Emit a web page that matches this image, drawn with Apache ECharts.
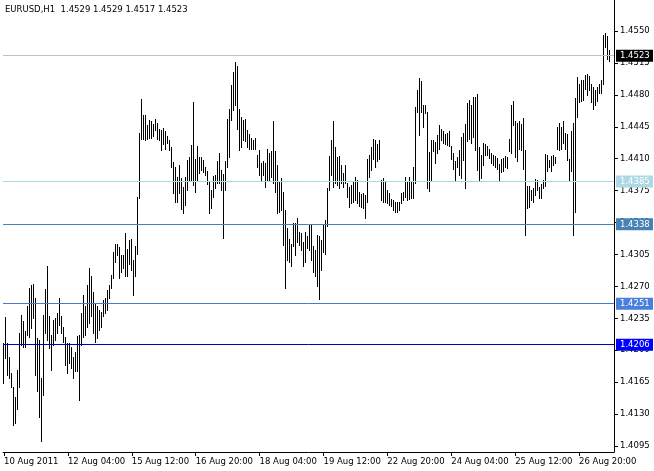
<!DOCTYPE html>
<html>
<head>
<meta charset="utf-8">
<script src="https://cdn.jsdelivr.net/npm/echarts@6/dist/echarts.min.js"></script>
<style>
html,body{margin:0;padding:0;background:#fff;}
#chart{width:654px;height:471px;}
</style>
</head>
<body>
<div id="chart"></div>
<script>
// ---- data ----
const titleText = 'EURUSD,H1  1.4529 1.4529 1.4517 1.4523';
const tickLabels = ['10 Aug 2011','12 Aug 04:00','15 Aug 12:00','16 Aug 20:00','18 Aug 04:00','19 Aug 12:00','22 Aug 20:00','24 Aug 04:00','25 Aug 12:00','26 Aug 20:00'];
const priceTicks = [1.4095,1.4130,1.4165,1.4200,1.4235,1.4270,1.4305,1.4340,1.4375,1.4410,1.4445,1.4480,1.4515,1.4550];
const highs = [
1.4208,1.4236,1.4208,1.4193,1.4175,1.4160,1.4149,1.4178,1.4219,1.4239,
1.4232,1.4221,1.4248,1.4268,1.4272,1.4273,1.4257,1.4213,1.4211,1.4169,
1.4239,1.4267,1.4292,1.4237,1.4217,1.4233,1.4235,1.4241,1.4257,1.4237,
1.4226,1.4215,1.4208,1.4208,1.4204,1.4193,1.4198,1.4216,1.4217,1.4241,
1.4260,1.4248,1.4272,1.4290,1.4281,1.4264,1.4251,1.4248,1.4244,1.4242,
1.4255,1.4257,1.4266,1.4272,1.4283,1.4308,1.4317,1.4316,1.4313,1.4304,
1.4304,1.4329,1.4311,1.4321,1.4322,1.4299,1.4314,1.4368,1.4438,1.4475,
1.4458,1.4458,1.4447,1.4452,1.4451,1.4448,1.4454,1.4449,1.4443,1.4442,
1.4444,1.4440,1.4435,1.4431,1.4423,1.4406,1.4401,1.4390,1.4403,1.4389,
1.4379,1.4390,1.4409,1.4412,1.4425,1.4472,1.4410,1.4424,1.4412,1.4412,
1.4409,1.4401,1.4397,1.4384,1.4376,1.4391,1.4392,1.4407,1.4416,1.4398,
1.4393,1.4408,1.4454,1.4464,1.4491,1.4505,1.4516,1.4512,1.4464,1.4456,
1.4452,1.4454,1.4441,1.4437,1.4433,1.4431,1.4433,1.4414,1.4420,1.4405,
1.4407,1.4405,1.4421,1.4416,1.4418,1.4451,1.4418,1.4403,1.4385,1.4389,
1.4374,1.4354,1.4334,1.4322,1.4317,1.4339,1.4339,1.4345,1.4330,1.4328,
1.4319,1.4330,1.4325,1.4337,1.4337,1.4314,1.4310,1.4326,1.4325,1.4321,
1.4337,1.4343,1.4378,1.4413,1.4430,1.4451,1.4423,1.4412,1.4413,1.4403,
1.4394,1.4403,1.4383,1.4379,1.4381,1.4384,1.4390,1.4387,1.4374,1.4371,
1.4372,1.4370,1.4410,1.4414,1.4423,1.4432,1.4431,1.4426,1.4431,1.4387,
1.4389,1.4384,1.4376,1.4372,1.4366,1.4365,1.4363,1.4362,1.4363,1.4372,
1.4374,1.4390,1.4385,1.4390,1.4385,1.4401,1.4467,1.4485,1.4499,1.4495,
1.4469,1.4469,1.4461,1.4417,1.4431,1.4431,1.4428,1.4436,1.4447,1.4443,
1.4440,1.4437,1.4438,1.4440,1.4424,1.4416,1.4407,1.4412,1.4420,1.4434,
1.4438,1.4448,1.4471,1.4474,1.4469,1.4478,1.4478,1.4481,1.4423,1.4414,
1.4427,1.4426,1.4424,1.4421,1.4416,1.4414,1.4413,1.4411,1.4404,1.4410,
1.4411,1.4413,1.4412,1.4432,1.4469,1.4473,1.4451,1.4449,1.4451,1.4448,
1.4455,1.4420,1.4380,1.4380,1.4376,1.4378,1.4388,1.4387,1.4379,1.4382,
1.4387,1.4415,1.4414,1.4409,1.4413,1.4414,1.4412,1.4445,1.4449,1.4445,
1.4451,1.4438,1.4437,1.4410,1.4440,1.4449,1.4477,1.4500,1.4492,1.4496,
1.4496,1.4502,1.4503,1.4501,1.4492,1.4489,1.4485,1.4489,1.4492,1.4496,
1.4546,1.4548,1.4545,1.4529
];
const lows = [
1.4164,1.4191,1.4173,1.4169,1.4160,1.4118,1.4120,1.4135,1.4160,1.4206,
1.4204,1.4204,1.4217,1.4215,1.4224,1.4235,1.4173,1.4155,1.4127,1.4100,
1.4151,1.4219,1.4211,1.4202,1.4178,1.4206,1.4211,1.4219,1.4228,1.4219,
1.4209,1.4184,1.4175,1.4186,1.4180,1.4169,1.4177,1.4177,1.4145,1.4206,
1.4215,1.4217,1.4226,1.4230,1.4237,1.4219,1.4209,1.4213,1.4222,1.4226,
1.4237,1.4241,1.4244,1.4257,1.4268,1.4279,1.4297,1.4304,1.4279,1.4286,
1.4290,1.4281,1.4281,1.4295,1.4288,1.4261,1.4281,1.4306,1.4367,1.4432,
1.4432,1.4431,1.4432,1.4433,1.4433,1.4435,1.4442,1.4432,1.4431,1.4420,
1.4426,1.4421,1.4427,1.4420,1.4401,1.4372,1.4363,1.4363,1.4372,1.4355,
1.4350,1.4359,1.4376,1.4387,1.4385,1.4381,1.4374,1.4387,1.4394,1.4398,
1.4395,1.4392,1.4382,1.4351,1.4356,1.4368,1.4378,1.4383,1.4383,1.4376,
1.4323,1.4376,1.4401,1.4412,1.4452,1.4463,1.4469,1.4443,1.4420,1.4423,
1.4431,1.4429,1.4423,1.4421,1.4421,1.4421,1.4421,1.4401,1.4392,1.4387,
1.4392,1.4379,1.4385,1.4386,1.4390,1.4383,1.4374,1.4350,1.4352,1.4354,
1.4315,1.4268,1.4299,1.4297,1.4292,1.4314,1.4304,1.4319,1.4315,1.4310,
1.4292,1.4297,1.4312,1.4310,1.4299,1.4286,1.4281,1.4270,1.4256,1.4288,
1.4308,1.4306,1.4336,1.4376,1.4392,1.4379,1.4383,1.4381,1.4378,1.4383,
1.4379,1.4383,1.4368,1.4357,1.4361,1.4363,1.4365,1.4361,1.4358,1.4357,
1.4356,1.4345,1.4363,1.4390,1.4398,1.4410,1.4401,1.4407,1.4410,1.4365,
1.4363,1.4363,1.4361,1.4359,1.4358,1.4354,1.4352,1.4352,1.4354,1.4361,
1.4365,1.4368,1.4365,1.4366,1.4367,1.4367,1.4383,1.4461,1.4436,1.4461,
1.4445,1.4460,1.4378,1.4375,1.4385,1.4418,1.4405,1.4416,1.4421,1.4431,
1.4427,1.4426,1.4425,1.4424,1.4410,1.4399,1.4385,1.4401,1.4392,1.4389,
1.4409,1.4378,1.4429,1.4432,1.4427,1.4434,1.4420,1.4398,1.4387,1.4389,
1.4403,1.4414,1.4414,1.4411,1.4405,1.4403,1.4401,1.4399,1.4387,1.4395,
1.4396,1.4401,1.4400,1.4418,1.4416,1.4447,1.4412,1.4407,1.4421,1.4420,
1.4399,1.4326,1.4356,1.4357,1.4365,1.4363,1.4370,1.4376,1.4367,1.4367,
1.4378,1.4380,1.4396,1.4401,1.4396,1.4403,1.4405,1.4421,1.4420,1.4421,
1.4427,1.4421,1.4409,1.4385,1.4396,1.4326,1.4352,1.4456,1.4472,1.4473,
1.4474,1.4486,1.4480,1.4485,1.4472,1.4465,1.4469,1.4473,1.4482,1.4482,
1.4492,1.4532,1.4519,1.4517
];
// horizontal price levels: value, line colour, label box colour
const levelValues = [1.4523, 1.4385, 1.4338, 1.4251, 1.4206];
const levelLineColors = ['#c0c0c0', '#add8e6', '#4682b4', '#4a78d0', '#0000c0'];
const levelBoxColors = ['#000000', '#add8e6', '#4682b4', '#4a7fdc', '#0000ff'];

// ---- chart ----
const FONT = 'DejaVu Sans';
const slotCount = 306;
const categories = [];
for (let i = 0; i < slotCount; i++) categories.push(i);
const barData = highs.map((h, i) => [i, lows[i], h]);
const showTick = (idx) => idx % 32 === 0 && idx / 32 < tickLabels.length;

const chart = echarts.init(document.getElementById('chart'), null, {renderer: 'canvas'});
chart.setOption({
  animation: false,
  backgroundColor: '#ffffff',
  title: {
    text: titleText, left: 5, top: 5, padding: 0,
    textStyle: {fontFamily: FONT, fontSize: 8.5, fontWeight: 'normal', color: '#000'}
  },
  grid: {left: 3, right: 40, top: 0, bottom: 19, containLabel: false},
  xAxis: {
    type: 'category', data: categories, boundaryGap: true,
    axisLine: {show: true, lineStyle: {color: '#000', width: 1}},
    axisTick: {show: true, alignWithLabel: true, interval: showTick, length: 4, lineStyle: {color: '#000'}},
    axisLabel: {
      show: true, interval: showTick, align: 'left', margin: 5,
      fontFamily: FONT, fontSize: 8.5, color: '#000',
      formatter: (v, idx) => tickLabels[Math.round(idx / 32)] || ''
    },
    splitLine: {show: false}
  },
  yAxis: {
    type: 'value', position: 'right', min: 1.40884, max: 1.45840, scale: true,
    axisLine: {show: true, onZero: false, lineStyle: {color: '#000', width: 1}},
    axisTick: {show: true, length: 4, customValues: priceTicks, lineStyle: {color: '#000'}},
    axisLabel: {
      show: true, margin: 6, customValues: priceTicks,
      fontFamily: FONT, fontSize: 8.5, color: '#000',
      formatter: (v) => v.toFixed(4)
    },
    splitLine: {show: false}
  },
  series: [
    {
      type: 'line', data: [], z: 1, silent: true,
      markLine: {
        silent: true, symbol: ['none', 'none'], animation: false, precision: 4,
        data: levelValues.map((v, k) => ({
          yAxis: v,
          lineStyle: {color: levelLineColors[k], width: 1, type: 'solid'},
          label: {
            show: true, position: 'end', distance: 2,
            formatter: () => v.toFixed(4),
            color: '#fff', backgroundColor: levelBoxColors[k],
            fontFamily: FONT, fontSize: 8.5, padding: [2, 4, 1, 4], width: 29
          }
        }))
      }
    },
    {
      type: 'custom', z: 3, data: barData,
      encode: {x: 0, y: [1, 2]},
      renderItem: function (params, api) {
        const i = api.value(0);
        const lo = api.coord([i, api.value(1)]);
        const hi = api.coord([i, api.value(2)]);
        const x = Math.round(lo[0] - 0.5) + 0.5;
        return {
          type: 'line',
          shape: {x1: x, y1: Math.round(hi[1]), x2: x, y2: Math.round(lo[1]) + 1},
          style: {stroke: '#000', lineWidth: 1}
        };
      }
    }
  ]
});
</script>
</body>
</html>
